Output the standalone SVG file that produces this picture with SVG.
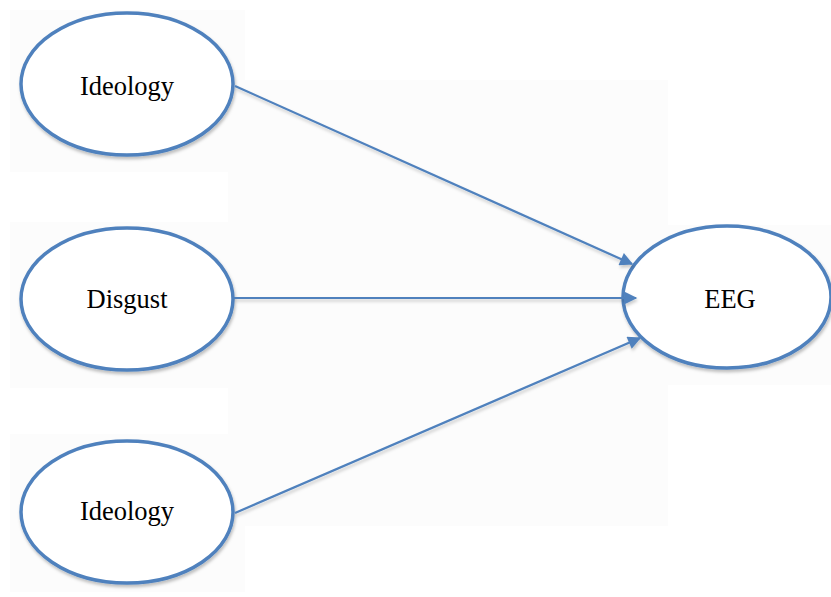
<svg xmlns="http://www.w3.org/2000/svg" width="831" height="597" viewBox="0 0 831 597">
<defs>
<style>
.bg{fill:#fcfcfc;stroke:none}
.node ellipse{fill:#fff;stroke:#4f81bd;stroke-width:3.5;filter:url(#sh)}
.node text{font-family:"Liberation Serif","DejaVu Serif",serif;font-size:26.5px;fill:#000;text-anchor:middle}
.edge{stroke:#4f81bd;stroke-width:2.2;fill:none;marker-end:url(#ah);filter:url(#lsh)}
</style>
<filter id="sh" x="-10%" y="-10%" width="130%" height="130%">
<feDropShadow dx="1" dy="2.5" stdDeviation="1.5" flood-color="#000" flood-opacity="0.25"/>
</filter>
<filter id="lsh" filterUnits="userSpaceOnUse" x="0" y="0" width="831" height="597">
<feDropShadow dx="1" dy="2.5" stdDeviation="1.5" flood-color="#000" flood-opacity="0.2"/>
</filter>
<marker id="ah" viewBox="0 0 10 10" refX="9" refY="5" markerWidth="6.5" markerHeight="6" orient="auto" markerUnits="strokeWidth">
<path d="M0,0 L10,5 L0,10 Z" fill="#4f81bd"/>
</marker>
</defs>
<rect width="831" height="597" fill="#fff"/>
<g id="background">
<rect class="bg" x="10" y="10" width="235" height="162"/>
<rect class="bg" x="10" y="222" width="235" height="166"/>
<rect class="bg" x="10" y="434" width="235" height="158"/>
<rect class="bg" x="228" y="80" width="440" height="446"/>
<rect class="bg" x="615" y="225" width="216" height="160"/>
</g>
<g id="ideology1" class="node">
<ellipse cx="127" cy="84" rx="106" ry="71"/>
<text x="127" y="95">Ideology</text>
</g>
<g id="disgust" class="node">
<ellipse cx="127" cy="299" rx="106" ry="71"/>
<text x="127" y="308">Disgust</text>
</g>
<g id="ideology2" class="node">
<ellipse cx="127" cy="512" rx="106" ry="71"/>
<text x="127" y="520">Ideology</text>
</g>
<g id="eeg" class="node">
<ellipse cx="727" cy="297" rx="104" ry="71"/>
<text x="730" y="308">EEG</text>
</g>
<g id="connectors">
<line class="edge" x1="235" y1="86" x2="632" y2="264"/>
<line class="edge" x1="234" y1="298" x2="636" y2="298"/>
<line class="edge" x1="235" y1="513" x2="640" y2="338"/>
</g>
</svg>
